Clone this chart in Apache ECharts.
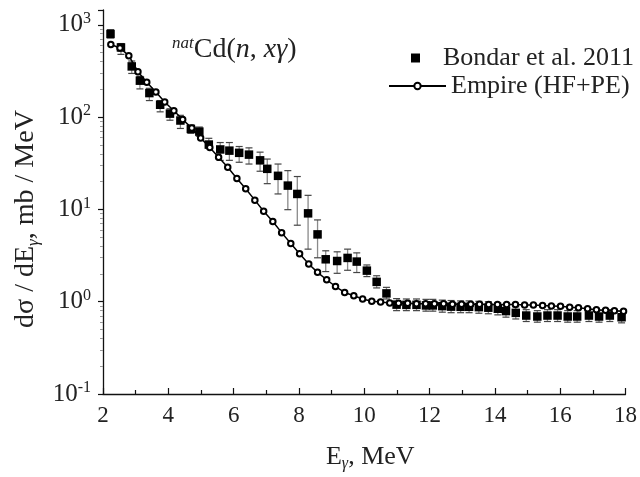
<!DOCTYPE html>
<html><head><meta charset="utf-8">
<script src="https://cdn.jsdelivr.net/npm/echarts@6/dist/echarts.min.js"></script>
<style>html,body{margin:0;padding:0;background:#fff}#c{width:640px;height:477px}</style>
</head><body><div id="c"></div>
<script>
// Bondar et al. 2011 (experimental)
const bondarE = [2.23,2.55,2.88,3.13,3.42,3.75,4.05,4.37,4.69,4.95,5.24,5.59,5.87,6.17,6.47,6.81,7.03,7.36,7.66,7.95,8.28,8.57,8.82,9.17,9.49,9.77,10.08,10.38,10.68,10.99,11.29,11.60,11.89,12.10,12.39,12.66,12.95,13.21,13.51,13.80,14.09,14.34,14.64,14.96,15.30,15.61,15.92,16.23,16.52,16.88,17.19,17.52,17.88];
const bondarV = [795,568,354,248,182,136,109,91.8,74.5,69.6,50.4,44.6,43.3,41.0,39.2,34.0,27.5,23.1,18.1,14.7,9.06,5.36,2.88,2.76,2.98,2.72,2.17,1.64,1.23,0.929,0.924,0.924,0.911,0.911,0.895,0.884,0.880,0.880,0.873,0.861,0.838,0.791,0.757,0.708,0.691,0.708,0.708,0.691,0.691,0.708,0.691,0.708,0.679];
const bondarLo = [721,478,297,202,151,114,92.5,75.3,66.7,62,46,34,34,32.4,31,25.9,19.0,14.7,9.93,6.74,3.71,2.99,2.12,2.03,2.19,2.07,1.87,1.41,1.07,0.80,0.80,0.80,0.79,0.79,0.77,0.76,0.76,0.76,0.75,0.74,0.72,0.68,0.65,0.61,0.60,0.61,0.61,0.60,0.60,0.61,0.60,0.61,0.59];
const bondarHi = [885,626,405,276,205,151,123,104.5,81.7,78,58.9,53,53,48,46.4,41.7,35.1,31.0,26.3,22.7,14.2,7.69,3.56,3.47,3.71,3.38,2.50,1.91,1.43,1.08,1.07,1.07,1.06,1.06,1.04,1.03,1.02,1.02,1.01,1.00,0.97,0.92,0.88,0.82,0.80,0.82,0.82,0.80,0.80,0.82,0.80,0.82,0.79];
// Empire (HF+PE) calculation
const empireE = [2.24,2.52,2.79,3.07,3.34,3.62,3.89,4.17,4.44,4.72,4.99,5.27,5.54,5.82,6.10,6.37,6.65,6.92,7.20,7.47,7.75,8.02,8.30,8.57,8.85,9.12,9.40,9.68,9.95,10.23,10.50,10.78,11.05,11.33,11.60,11.88,12.15,12.43,12.70,12.98,13.26,13.53,13.81,14.08,14.36,14.63,14.91,15.18,15.46,15.73,16.01,16.29,16.56,16.84,17.11,17.39,17.66,17.94];
const empireV = [611,561,463,310,238,187,146,117,94,76,59.5,46.8,36.7,28.6,21.6,16.7,12.6,9.56,7.39,5.60,4.26,3.30,2.56,2.08,1.73,1.46,1.26,1.16,1.07,1.01,0.99,0.97,0.96,0.96,0.95,0.95,0.95,0.95,0.94,0.94,0.94,0.94,0.93,0.93,0.93,0.93,0.92,0.92,0.91,0.90,0.89,0.87,0.86,0.84,0.82,0.81,0.80,0.79];
const xTickMin = 2, xTickMax = 18, xTickStep = 2;
const yMin = 0.1, yMax = 1446;
const seriesNames = ['Bondar et al. 2011', 'Empire (HF+PE)'];

const FONT = '"Liberation Serif", "DejaVu Serif", serif';
const chart = echarts.init(document.getElementById('c'), null, {renderer: 'canvas'});
const bondarPts = bondarE.map((e, i) => [e, bondarV[i]]);
const errPts = bondarE.map((e, i) => [e, bondarLo[i], bondarHi[i]]);
const empirePts = empireE.map((e, i) => [e, empireV[i]]);

chart.setOption({
  animation: false,
  backgroundColor: '#fff',
  textStyle: {fontFamily: FONT, color: '#222'},
  grid: {left: 103, right: 10, top: 10, bottom: 78, containLabel: false},
  title: {
    text: '{sup|nat}{a|Cd(}{i|n}{a|, }{i|xγ}{a|)}',
    left: 167, top: 30,
    textStyle: {
      fontFamily: FONT, color: '#222', fontWeight: 'normal',
      rich: {
        sup: {fontFamily: FONT, fontSize: 17, fontStyle: 'italic', fontWeight: 'normal', color: '#222', verticalAlign: 'top', lineHeight: 16},
        a: {fontFamily: FONT, fontSize: 28, fontWeight: 'normal', color: '#222', lineHeight: 30},
        i: {fontFamily: FONT, fontSize: 28, fontStyle: 'italic', fontWeight: 'normal', color: '#222', lineHeight: 30}
      }
    }
  },
  legend: [
    {
      data: [seriesNames[0]], left: 406, top: 40, icon: 'rect',
      itemWidth: 9, itemHeight: 9,
      textStyle: {fontFamily: FONT, fontSize: 26, color: '#222', padding: [0, 0, 0, 18]}
    },
    {
      data: [seriesNames[1]], left: 383, top: 68,
      itemWidth: 57, itemHeight: 8,
      textStyle: {fontFamily: FONT, fontSize: 26, color: '#222', padding: [0, 0, 0, 0]}
    }
  ],
  xAxis: {
    type: 'value', min: xTickMin, max: xTickMax, interval: xTickStep,
    name: '{a|E}{s|γ}{a|, MeV}', nameLocation: 'middle', nameGap: 48,
    nameTextStyle: {
      padding: [0, 0, 0, 12],
      rich: {
        a: {fontFamily: FONT, fontSize: 26, color: '#222', lineHeight: 30},
        s: {fontFamily: FONT, fontSize: 16, fontStyle: 'italic', color: '#222', verticalAlign: 'bottom', lineHeight: 14}
      }
    },
    axisLine: {show: true, onZero: false, lineStyle: {color: '#111', width: 1.3}},
    axisTick: {show: true, inside: true, length: 6, lineStyle: {color: '#111', width: 1.2}},
    minorTick: {show: true, splitNumber: 2, length: 4, lineStyle: {color: '#111', width: 1.2}},
    splitLine: {show: false},
    axisLabel: {fontFamily: FONT, fontSize: 23, color: '#222', margin: 10}
  },
  yAxis: {
    type: 'log', logBase: 10, min: yMin, max: yMax,
    name: '{a|dσ / dE}{s|γ}{a|, mb / MeV}', nameLocation: 'middle', nameGap: 60,
    nameTextStyle: {
      padding: [0, 34, 0, 0],
      rich: {
        a: {fontFamily: FONT, fontSize: 28, color: '#222', lineHeight: 32},
        s: {fontFamily: FONT, fontSize: 17, fontStyle: 'italic', color: '#222', verticalAlign: 'bottom', lineHeight: 14}
      }
    },
    axisLine: {show: true, onZero: false, lineStyle: {color: '#111', width: 1.3}},
    axisTick: {show: true, inside: false, length: 5, lineStyle: {color: '#111', width: 1.2}},
    minorTick: {show: true, splitNumber: 9, length: 3, lineStyle: {color: '#999', width: 1}},
    splitLine: {show: false},
    axisLabel: {
      margin: 12,
      formatter: function (v) {
        const l = Math.log10(v);
        const e = Math.round(l);
        if (Math.abs(l - e) > 1e-6) return '';
        return '{b|10}{s|' + e + '}';
      },
      rich: {
        b: {fontFamily: FONT, fontSize: 25, color: '#222', lineHeight: 28},
        s: {fontFamily: FONT, fontSize: 16, color: '#222', verticalAlign: 'top', lineHeight: 16}
      }
    }
  },
  series: [
    {
      type: 'custom',
      silent: true,
      z: 1,
      data: errPts,
      encode: {x: 0, y: [1, 2]},
      renderItem: function (params, api) {
        const x = api.value(0);
        const top = api.coord([x, api.value(2)]);
        const bot = api.coord([x, api.value(1)]);
        const w = 3.5;
        return {
          type: 'group',
          children: [
            {type: 'line', shape: {x1: top[0], y1: top[1], x2: bot[0], y2: bot[1]}, style: {stroke: '#8a8a8a', lineWidth: 1.3}},
            {type: 'line', shape: {x1: top[0] - w, y1: top[1], x2: top[0] + w, y2: top[1]}, style: {stroke: '#444', lineWidth: 1.2}},
            {type: 'line', shape: {x1: bot[0] - w, y1: bot[1], x2: bot[0] + w, y2: bot[1]}, style: {stroke: '#444', lineWidth: 1.2}}
          ]
        };
      }
    },
    {
      name: seriesNames[0], type: 'scatter', z: 2,
      symbol: 'rect', symbolSize: 8.5,
      itemStyle: {color: '#000', opacity: 1},
      data: bondarPts
    },
    {
      name: seriesNames[1], type: 'line', z: 3,
      symbol: 'emptyCircle', symbolSize: 5.5, showAllSymbol: true,
      itemStyle: {color: '#000', borderWidth: 1.2},
      lineStyle: {color: '#000', width: 1.5},
      data: empirePts
    }
  ]
});
</script>
</body></html>
